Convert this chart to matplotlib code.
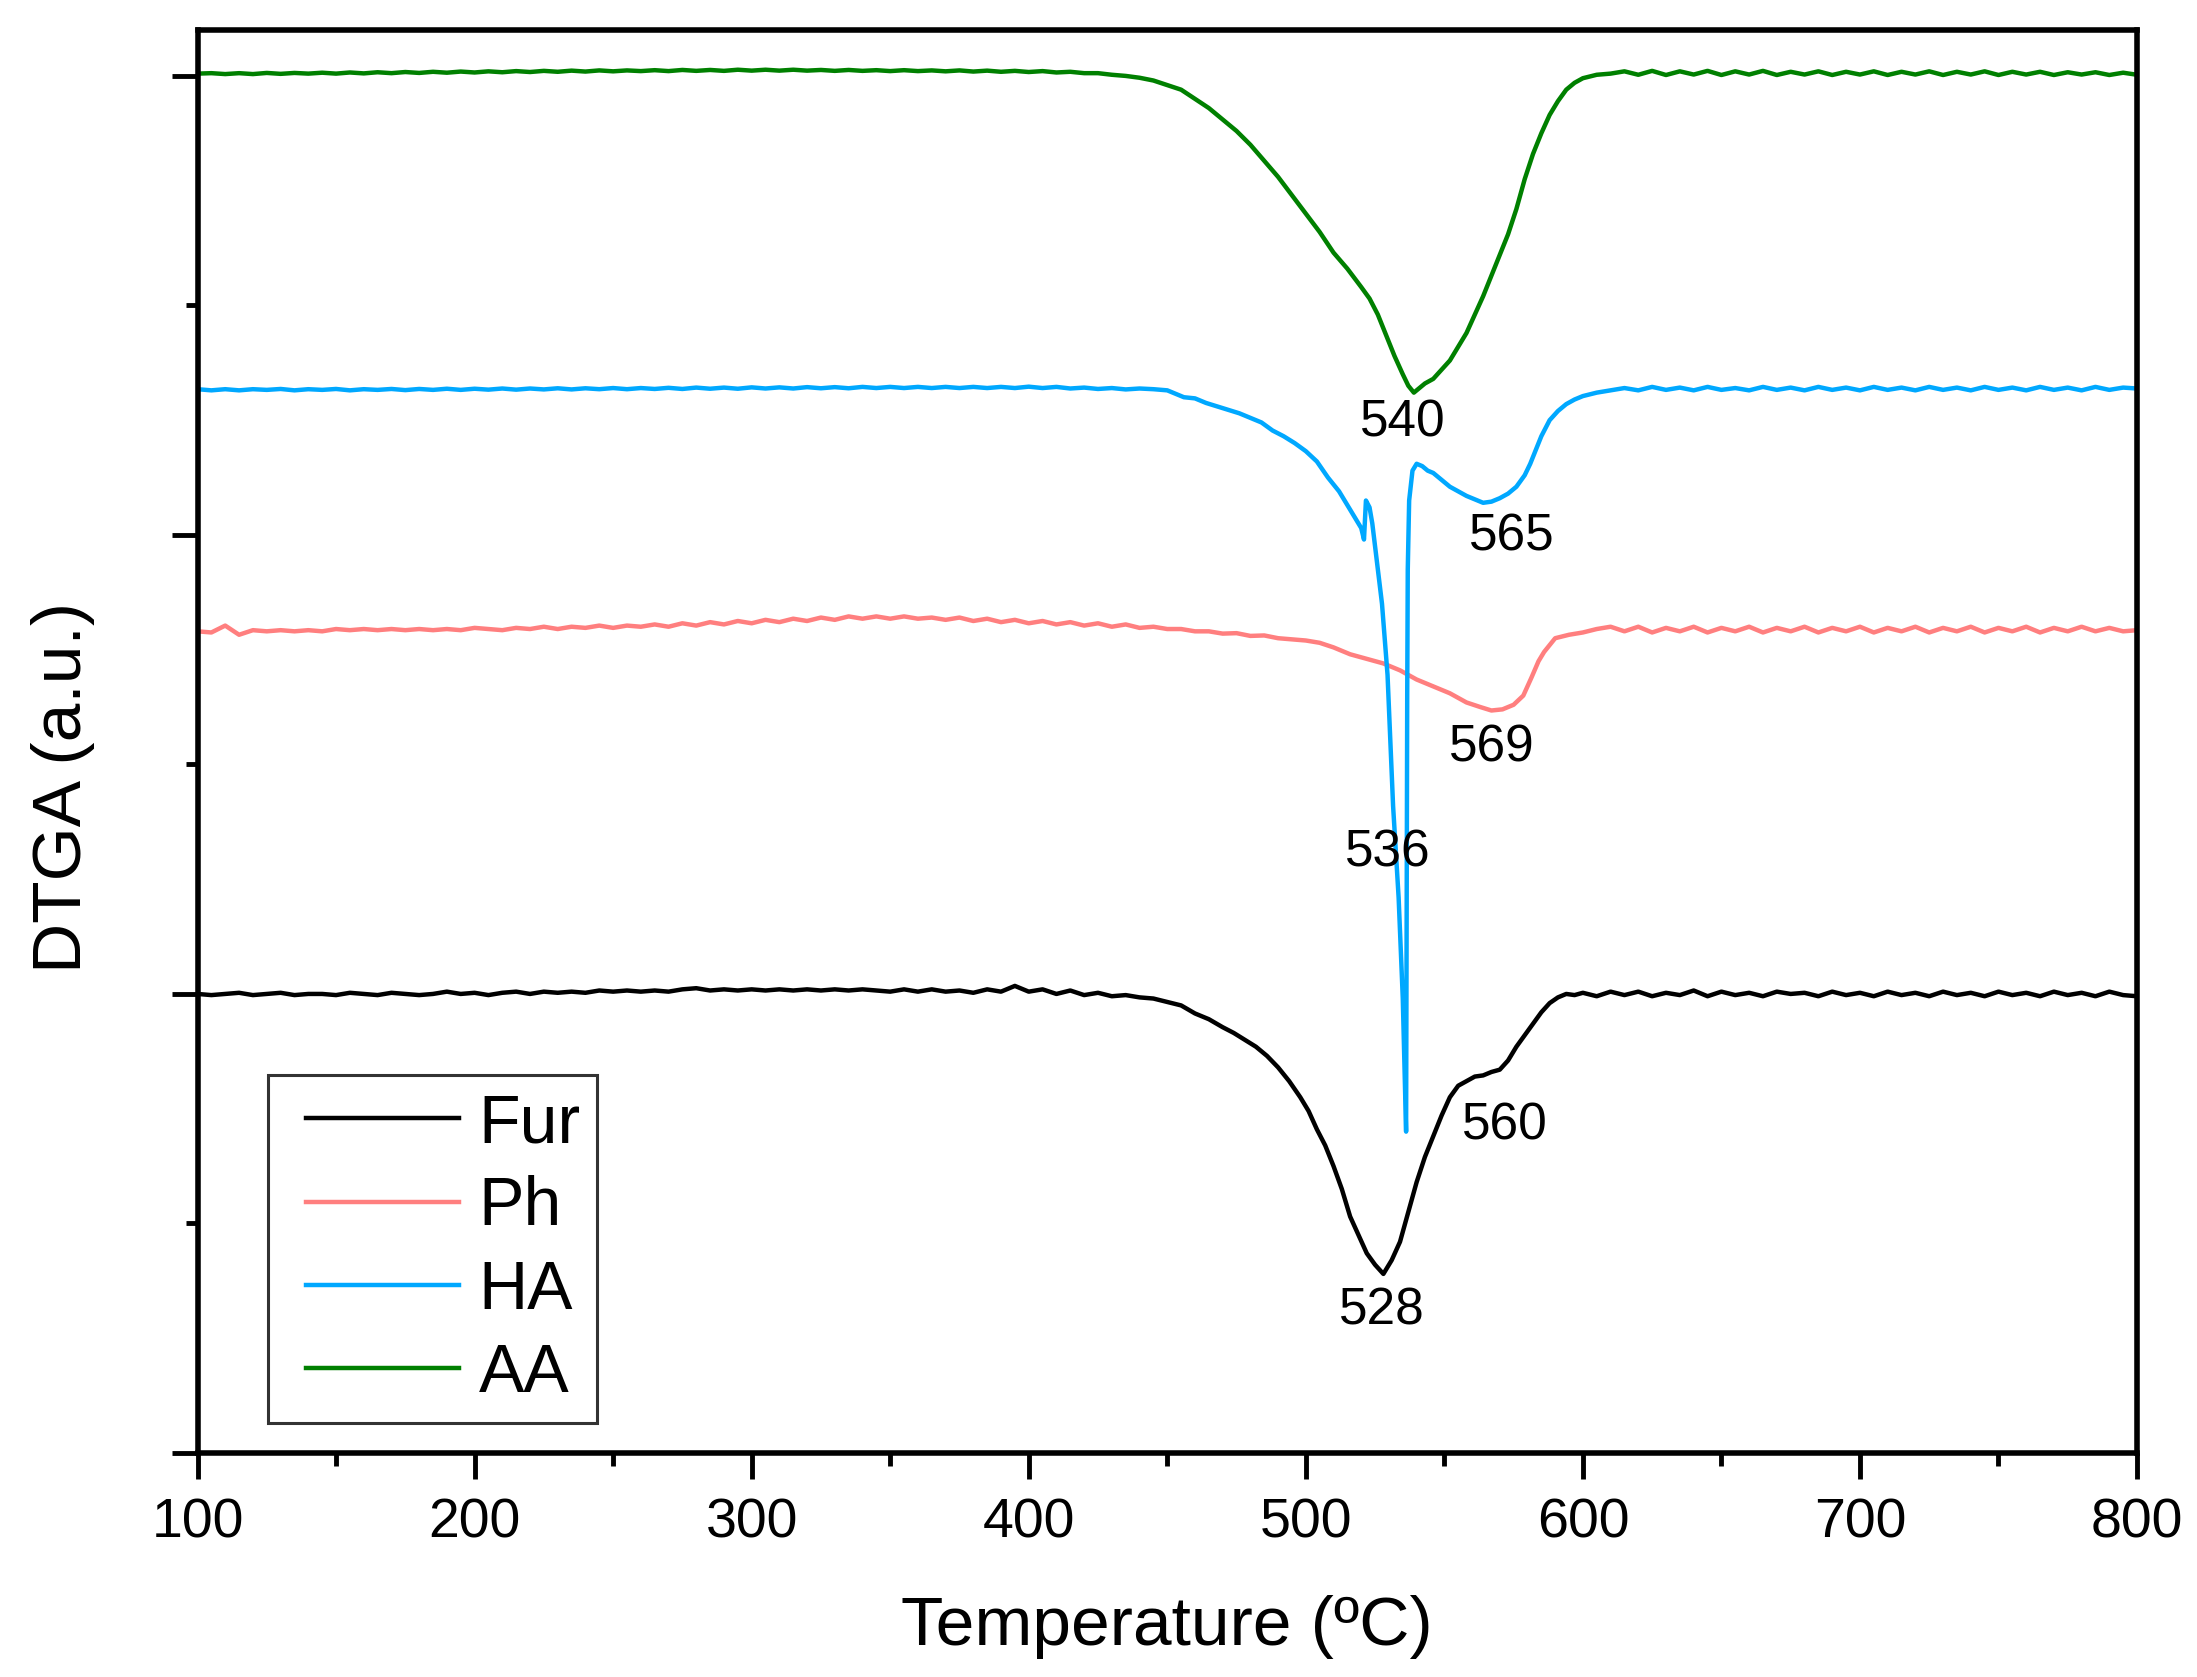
import matplotlib
matplotlib.use('Agg')
import matplotlib.pyplot as plt
from matplotlib.ticker import MultipleLocator, NullFormatter
from matplotlib.legend_handler import HandlerLine2D

plt.rcParams.update({
    'font.family': ['Liberation Sans', 'DejaVu Sans'],
    'font.size': 40,
})

# ── Data (offset curves, arbitrary units) ──
# flat parts sampled every 5 ºC, the decomposition regions listed point by point

grid_left = list(range(100, 450, 5))     # 70 points
grid_right = list(range(600, 805, 5))    # 41 points

fur_left = [2.000, 1.995, 2.000, 2.005, 1.995, 2.000, 2.005, 1.995, 2.000, 2.000,
            1.995, 2.005, 2.000, 1.995, 2.005, 2.000, 1.995, 2.000, 2.010, 2.000,
            2.005, 1.995, 2.005, 2.010, 2.000, 2.010, 2.005, 2.010, 2.005, 2.015,
            2.010, 2.015, 2.010, 2.015, 2.010, 2.020, 2.025, 2.015, 2.020, 2.015,
            2.020, 2.015, 2.020, 2.015, 2.020, 2.015, 2.020, 2.015, 2.020, 2.015,
            2.010, 2.020, 2.010, 2.020, 2.010, 2.015, 2.005, 2.020, 2.010, 2.035,
            2.010, 2.020, 2.000, 2.015, 1.995, 2.005, 1.990, 1.995, 1.985, 1.980]
fur_dip_T = [450, 455, 460, 465, 470, 474, 478, 482, 486, 490,
             494, 498, 501, 504, 507, 510, 513, 516, 519, 522,
             525, 528, 531, 534, 537, 540, 543, 546, 549, 552,
             555, 558, 561, 564, 567, 570, 573, 576, 579, 582,
             585, 588, 591, 594, 597]
fur_dip_v = [1.965, 1.950, 1.915, 1.890, 1.855, 1.830, 1.800, 1.770, 1.730, 1.680,
             1.620, 1.550, 1.490, 1.410, 1.340, 1.250, 1.150, 1.030, 0.950, 0.870,
             0.820, 0.780, 0.840, 0.920, 1.050, 1.180, 1.290, 1.380, 1.470, 1.550,
             1.600, 1.620, 1.640, 1.645, 1.660, 1.670, 1.710, 1.770, 1.820, 1.870,
             1.920, 1.960, 1.985, 2.000, 1.995]
fur_right = [2.005, 1.990, 2.010, 1.995, 2.010, 1.990, 2.005, 1.995, 2.015, 1.990,
             2.010, 1.995, 2.005, 1.990, 2.010, 2.000, 2.005, 1.990, 2.010, 1.995,
             2.005, 1.990, 2.010, 1.995, 2.005, 1.990, 2.010, 1.995, 2.005, 1.990,
             2.010, 1.995, 2.005, 1.990, 2.010, 1.995, 2.005, 1.990, 2.010, 1.995,
             1.990]

ph_left = [3.580, 3.575, 3.605, 3.565, 3.585, 3.580, 3.585, 3.580, 3.585, 3.580,
           3.590, 3.585, 3.590, 3.585, 3.590, 3.585, 3.590, 3.585, 3.590, 3.585,
           3.595, 3.590, 3.585, 3.595, 3.590, 3.600, 3.590, 3.600, 3.595, 3.605,
           3.595, 3.605, 3.600, 3.610, 3.600, 3.615, 3.605, 3.620, 3.610, 3.625,
           3.615, 3.630, 3.620, 3.635, 3.625, 3.640, 3.630, 3.645, 3.635, 3.645,
           3.635, 3.645, 3.635, 3.640, 3.630, 3.640, 3.625, 3.635, 3.620, 3.630,
           3.615, 3.625, 3.610, 3.620, 3.605, 3.615, 3.600, 3.610, 3.595, 3.600]
ph_dip_T = [450, 455, 460, 465, 470, 475, 480, 485, 490, 495,
            500, 505, 510, 516, 522, 528, 534, 540, 546, 552,
            558, 563, 567, 571, 575, 578.5, 581.5, 584, 586, 590,
            595]
ph_dip_v = [3.590, 3.590, 3.580, 3.580, 3.570, 3.572, 3.560, 3.562, 3.550, 3.545,
            3.540, 3.530, 3.510, 3.480, 3.460, 3.440, 3.410, 3.370, 3.340, 3.310,
            3.270, 3.250, 3.235, 3.240, 3.260, 3.300, 3.380, 3.450, 3.490, 3.550,
            3.565]
ph_right = [3.575, 3.590, 3.600, 3.580, 3.600, 3.575, 3.595, 3.580, 3.600, 3.575,
            3.595, 3.580, 3.600, 3.575, 3.595, 3.580, 3.600, 3.575, 3.595, 3.580,
            3.600, 3.575, 3.595, 3.580, 3.600, 3.575, 3.595, 3.580, 3.600, 3.575,
            3.595, 3.580, 3.600, 3.575, 3.595, 3.580, 3.600, 3.580, 3.595, 3.580,
            3.585]

ha_left = [4.635, 4.630, 4.635, 4.630, 4.635, 4.632, 4.636, 4.630, 4.635, 4.632,
           4.636, 4.630, 4.635, 4.632, 4.636, 4.631, 4.636, 4.632, 4.637, 4.632,
           4.637, 4.633, 4.638, 4.633, 4.638, 4.634, 4.639, 4.634, 4.639, 4.635,
           4.640, 4.635, 4.640, 4.636, 4.641, 4.636, 4.642, 4.637, 4.642, 4.637,
           4.643, 4.638, 4.643, 4.638, 4.644, 4.639, 4.644, 4.639, 4.645, 4.640,
           4.645, 4.640, 4.645, 4.640, 4.645, 4.640, 4.645, 4.640, 4.645, 4.640,
           4.646, 4.640, 4.645, 4.638, 4.642, 4.636, 4.640, 4.634, 4.638, 4.635]
ha_dip_T = [450, 453, 456, 460, 464, 468, 472, 476, 480, 484,
            488, 492, 496, 500, 504, 508, 512, 515, 518, 520,
            521, 521.7, 523, 524, 526, 527.5, 529.5, 531.5, 533.5, 535,
            535.7, 536.2, 536.4, 536.6, 536.8, 537.3, 538.5, 540, 542, 544,
            546, 549, 552, 555, 558, 561, 564, 567, 570, 573,
            576, 579, 581, 583, 585, 588, 591, 594, 597]
ha_dip_v = [4.630, 4.615, 4.600, 4.595, 4.575, 4.560, 4.545, 4.530, 4.510, 4.490,
            4.455, 4.430, 4.400, 4.365, 4.320, 4.250, 4.190, 4.130, 4.070, 4.030,
            3.980, 4.150, 4.120, 4.050, 3.850, 3.700, 3.390, 2.820, 2.420, 1.980,
            1.650, 1.400, 2.300, 3.300, 3.850, 4.150, 4.280, 4.310, 4.300, 4.280,
            4.270, 4.240, 4.210, 4.190, 4.170, 4.155, 4.140, 4.145, 4.160, 4.180,
            4.210, 4.260, 4.310, 4.370, 4.430, 4.500, 4.540, 4.570, 4.590]
ha_right = [4.605, 4.620, 4.630, 4.640, 4.630, 4.645, 4.632, 4.642, 4.630, 4.645,
            4.632, 4.640, 4.630, 4.645, 4.632, 4.642, 4.630, 4.645, 4.632, 4.642,
            4.630, 4.645, 4.632, 4.642, 4.630, 4.645, 4.632, 4.642, 4.630, 4.645,
            4.632, 4.642, 4.630, 4.645, 4.632, 4.642, 4.630, 4.645, 4.632, 4.642,
            4.638]

aa_left = [6.010, 6.012, 6.008, 6.012, 6.008, 6.013, 6.009, 6.013, 6.010, 6.014,
           6.010, 6.015, 6.011, 6.016, 6.012, 6.017, 6.013, 6.018, 6.014, 6.019,
           6.015, 6.020, 6.016, 6.021, 6.017, 6.022, 6.018, 6.023, 6.019, 6.024,
           6.020, 6.024, 6.021, 6.025, 6.021, 6.026, 6.022, 6.026, 6.022, 6.027,
           6.023, 6.027, 6.023, 6.027, 6.023, 6.026, 6.022, 6.026, 6.022, 6.025,
           6.021, 6.025, 6.021, 6.024, 6.020, 6.024, 6.019, 6.023, 6.018, 6.022,
           6.017, 6.021, 6.015, 6.018, 6.012, 6.012, 6.005, 6.000, 5.992, 5.980]
aa_dip_T = [450, 455, 460, 465, 470, 475, 480, 485, 490, 495,
            500, 505, 510, 515, 520, 523, 526, 529, 532, 535,
            537, 539, 541, 543, 546, 549, 552, 555, 558, 561,
            564, 567, 570, 573, 576, 579, 582, 585, 588, 591,
            594, 597]
aa_dip_v = [5.960, 5.940, 5.900, 5.860, 5.810, 5.760, 5.700, 5.630, 5.560, 5.480,
            5.400, 5.320, 5.230, 5.160, 5.080, 5.030, 4.960, 4.870, 4.780, 4.700,
            4.650, 4.620, 4.640, 4.660, 4.680, 4.720, 4.760, 4.820, 4.880, 4.960,
            5.040, 5.130, 5.220, 5.310, 5.420, 5.550, 5.660, 5.750, 5.830, 5.890,
            5.940, 5.970]
aa_right = [5.990, 6.005, 6.010, 6.020, 6.005, 6.022, 6.004, 6.020, 6.006, 6.022,
            6.004, 6.020, 6.006, 6.022, 6.004, 6.018, 6.006, 6.020, 6.004, 6.018,
            6.006, 6.020, 6.004, 6.018, 6.006, 6.020, 6.004, 6.018, 6.006, 6.020,
            6.004, 6.018, 6.006, 6.018, 6.004, 6.016, 6.006, 6.016, 6.004, 6.014,
            6.005]

series_names = ['Fur', 'Ph', 'HA', 'AA']
series_colors = ['#000000', '#FF7F7F', '#00A8FF', '#008000']

peak_labels = ['540', '565', '569', '536', '560', '528']
peak_T = [535, 574.5, 567, 529.5, 572, 527.5]
peak_v = [4.43, 3.93, 3.013, 2.555, 1.364, 0.559]

# ── Plot ──────────────────────────────────────────────────────────

fig = plt.figure(figsize=(21.97, 16.77), dpi=100)
ax = fig.add_axes([0.0899, 0.1336, 0.8828, 0.8485])

curves = [
    (fur_left, fur_dip_T, fur_dip_v, fur_right),
    (ph_left, ph_dip_T, ph_dip_v, ph_right),
    (ha_left, ha_dip_T, ha_dip_v, ha_right),
    (aa_left, aa_dip_T, aa_dip_v, aa_right),
]
for (left, dT, dv, right), name, c in zip(curves, series_names, series_colors):
    T = grid_left + dT + grid_right
    v = left + dv + right
    ax.plot(T, v, color=c, linewidth=3.2, label=name)

for lab, t, v in zip(peak_labels, peak_T, peak_v):
    ax.text(t, v, lab, ha='center', va='baseline', fontsize=37)

ax.set_xlim(100, 800)
ax.set_ylim(0, 6.2)
ax.xaxis.set_major_locator(MultipleLocator(100))
ax.xaxis.set_minor_locator(MultipleLocator(50))
ax.yaxis.set_major_locator(MultipleLocator(2))
ax.yaxis.set_minor_locator(MultipleLocator(1))
ax.yaxis.set_major_formatter(NullFormatter())

for s in ax.spines.values():
    s.set_linewidth(4)
ax.tick_params(which='both', direction='out', top=False, right=False, width=3.5)
ax.tick_params(which='major', length=19, pad=13, labelsize=40)
ax.tick_params(which='minor', length=9)

ax.set_xlabel('Temperature (ºC)', fontsize=50, va='center')
ax.xaxis.set_label_coords(0.5, -0.122)
ax.set_ylabel('DTGA (a.u.)', fontsize=50, va='center')
ax.yaxis.set_label_coords(-0.0696, 0.468)

leg = ax.legend(loc='lower left', bbox_to_anchor=(0.0366, 0.0211), borderaxespad=0,
                fontsize=49, frameon=True, fancybox=False, handlelength=2.56,
                handletextpad=0.28, labelspacing=0.285, borderpad=0.245,
                handler_map={matplotlib.lines.Line2D: HandlerLine2D(xpad=0.3)})
leg.get_frame().set_edgecolor('black')
leg.get_frame().set_linewidth(2.2)
for line in leg.get_lines():
    line.set_linewidth(3.2)

fig.savefig('out.png', dpi=100)
